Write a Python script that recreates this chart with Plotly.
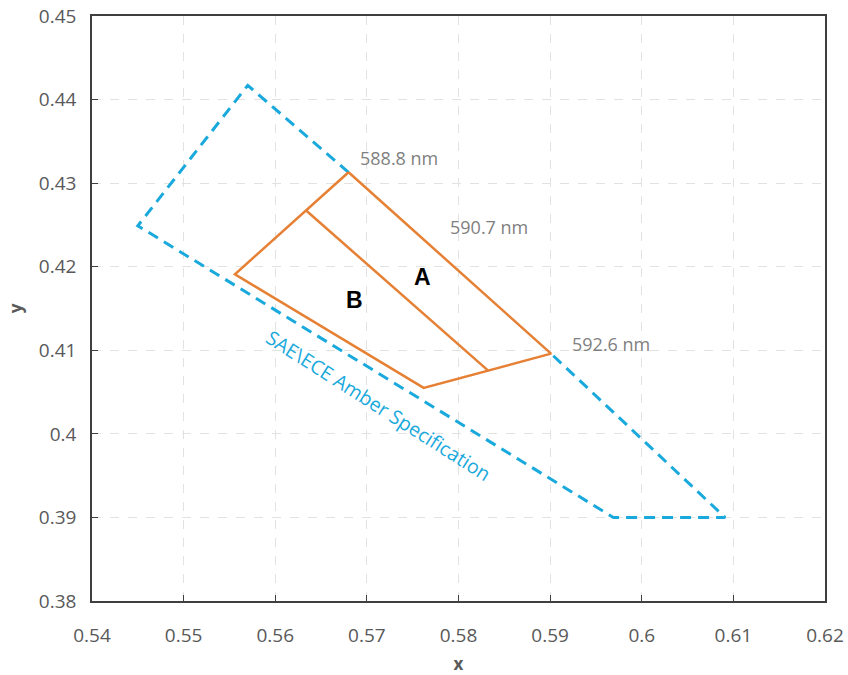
import plotly.graph_objects as go

# SAE/ECE amber boundary (chromaticity x, y), drawn as an open dashed path
# that starts and ends on the spectrum-locus corners of the orange region
sae_x = [0.5680, 0.5570, 0.5450, 0.5969, 0.6091, 0.5901]
sae_y = [0.4313, 0.4417, 0.4249, 0.3900, 0.3900, 0.4096]

# Outer orange region (A + B), closed
bin_x = [0.5680, 0.5556, 0.5762, 0.5901, 0.5680]
bin_y = [0.4313, 0.4191, 0.4055, 0.4096, 0.4313]

# Divider between sub-bins A and B
div_x = [0.5634, 0.5833]
div_y = [0.4267, 0.4075]

# Wavelength labels
wl_text = ["588.8 nm", "590.7 nm", "592.6 nm"]
wl_x = [0.5690, 0.5789, 0.5922]
wl_y = [0.4330, 0.4248, 0.4107]

# Region labels
reg_text = ["A", "B"]
reg_x = [0.5761, 0.5687]
reg_y = [0.4188, 0.4160]

x_ticks = [0.54, 0.55, 0.56, 0.57, 0.58, 0.59, 0.60, 0.61, 0.62]
x_tick_text = ["0.54", "0.55", "0.56", "0.57", "0.58", "0.59", "0.6", "0.61", "0.62"]
y_ticks = [0.38, 0.39, 0.40, 0.41, 0.42, 0.43, 0.44, 0.45]
y_tick_text = ["0.38", "0.39", "0.4", "0.41", "0.42", "0.43", "0.44", "0.45"]

BLUE = "#1aa9dc"
ORANGE = "#e58034"
GRAY = "#7f7f7f"
FONT = "Open Sans"

fig = go.Figure()
fig.add_trace(go.Scatter(x=sae_x, y=sae_y, mode="lines",
                         line=dict(color=BLUE, width=3, dash="11px,7px"),
                         hoverinfo="skip"))
fig.add_trace(go.Scatter(x=bin_x, y=bin_y, mode="lines",
                         line=dict(color=ORANGE, width=2.5), hoverinfo="skip"))
fig.add_trace(go.Scatter(x=div_x, y=div_y, mode="lines",
                         line=dict(color=ORANGE, width=2.5), hoverinfo="skip"))

for t, x, y in zip(wl_text, wl_x, wl_y):
    fig.add_annotation(x=x, y=y, text=t, showarrow=False, xanchor="left",
                       yanchor="middle", font=dict(family=FONT, size=18, color=GRAY))
for t, x, y in zip(reg_text, reg_x, reg_y):
    fig.add_annotation(x=x, y=y, text="<b>%s</b>" % t, showarrow=False,
                       font=dict(family="Liberation Sans", size=23, color="black"))

fig.add_annotation(x=0.5713, y=0.4034, text="SAE\\ECE Amber Specification",
                   showarrow=False, textangle=32.5,
                   font=dict(family=FONT, size=19.5, color=BLUE))

axis_common = dict(
    showline=True, linecolor="#3f3f3f", linewidth=1.5, mirror=True,
    showgrid=True, gridcolor="#e2e2e2", griddash="dash", gridwidth=1,
    ticks="inside", ticklen=6, tickcolor="#3f3f3f",
    tickfont=dict(family=FONT, size=19, color="#595959"),
    zeroline=False, automargin=False,
)

fig.update_xaxes(range=[0.54, 0.62], tickvals=x_ticks, ticktext=x_tick_text,
                 ticklabelstandoff=16,
                 title=dict(text="<b>x</b>", font=dict(family=FONT, size=17, color="#595959"),
                            standoff=14),
                 **axis_common)
fig.update_yaxes(range=[0.38, 0.45], tickvals=y_ticks, ticktext=y_tick_text,
                 ticklabelstandoff=10,
                 title=dict(text="<b>y</b>", font=dict(family=FONT, size=17, color="#595959"),
                            standoff=12),
                 **axis_common)

fig.update_layout(
    width=848, height=675,
    margin=dict(l=92, r=23, t=16, b=74),
    paper_bgcolor="white", plot_bgcolor="white",
    showlegend=False,
)

fig.write_html("out.html")
